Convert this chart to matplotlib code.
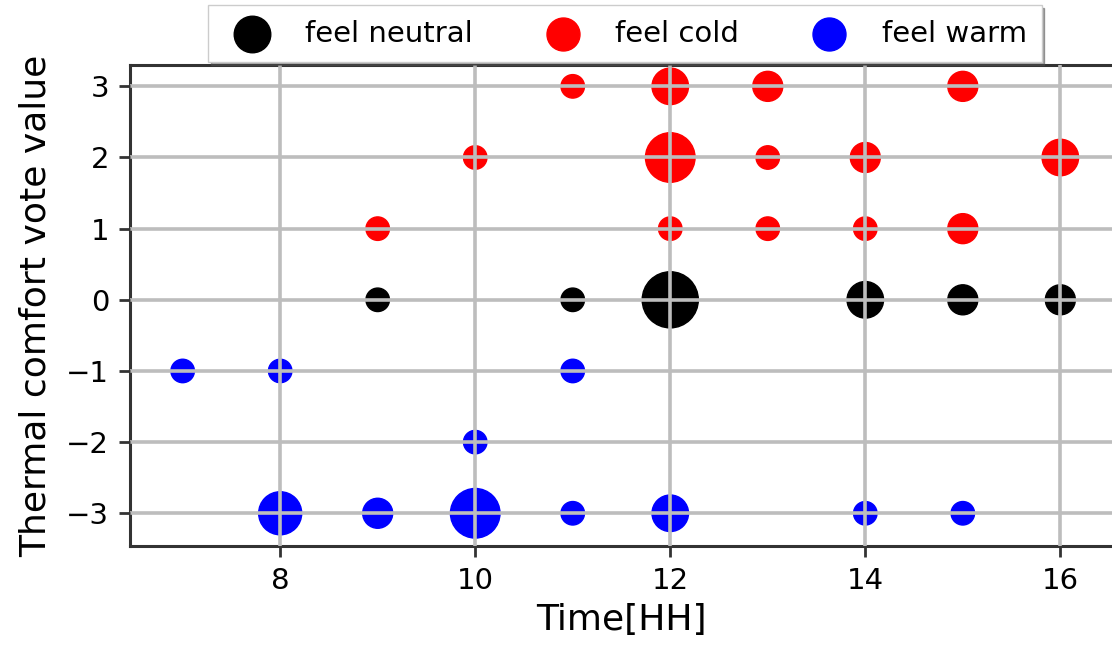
import numpy as np
import matplotlib
matplotlib.use("Agg")
import matplotlib.pyplot as plt

# Vote counts per (hour, vote value) for each group
neutral_time = [9, 11, 12, 14, 15, 16]
neutral_vote = [0, 0, 0, 0, 0, 0]
neutral_count = [1, 1, 6, 3, 2, 2]

cold_time = [11, 12, 13, 15, 10, 12, 13, 14, 16, 9, 12, 13, 14, 15]
cold_vote = [3, 3, 3, 3, 2, 2, 2, 2, 2, 1, 1, 1, 1, 1]
cold_count = [1, 3, 2, 2, 1, 5, 1, 2, 3, 1, 1, 1, 1, 2]

warm_time = [7, 8, 11, 10, 8, 9, 10, 11, 12, 14, 15]
warm_vote = [-1, -1, -1, -2, -3, -3, -3, -3, -3, -3, -3]
warm_count = [1, 1, 1, 1, 4, 2, 5, 1, 3, 1, 1]


# Marker area (points^2) from the number of votes
def marker_size(counts):
    diam = 12.2 + 4.7 * np.asarray(counts, dtype=float)
    return diam ** 2


fig = plt.figure(figsize=(11.12, 6.47), dpi=100)
ax = fig.add_axes([130 / 1112, 101 / 647, 983 / 1112, 481 / 647])

ax.scatter(neutral_time, neutral_vote, s=marker_size(neutral_count),
           c="black", label="feel neutral", zorder=2)
ax.scatter(cold_time, cold_vote, s=marker_size(cold_count),
           c="red", label="feel cold", zorder=2)
ax.scatter(warm_time, warm_vote, s=marker_size(warm_count),
           c="blue", label="feel warm", zorder=2)

ax.set_xlim(6.46, 16.54)
ax.set_ylim(-3.46, 3.30)
ax.set_xticks([8, 10, 12, 14, 16])
ax.set_yticks([-3, -2, -1, 0, 1, 2, 3])

ax.set_axisbelow(False)
ax.grid(True, color="#bdbdbd", linewidth=2.6, zorder=3)

for side in ["left", "top", "bottom", "right"]:
    ax.spines[side].set_linewidth(2.2)
    ax.spines[side].set_color("#333333")
ax.tick_params(axis="both", labelsize=21, length=8, width=2, color="#333333", pad=7)

ax.set_xlabel("Time[HH]", fontsize=26, labelpad=6)
ax.set_ylabel("Thermal comfort vote value", fontsize=26, labelpad=10)

fig.legend(loc="upper center", bbox_to_anchor=(625 / 1112, 1 - 5 / 647),
           ncol=3, fontsize=21, shadow=True, fancybox=False,
           scatterpoints=1, markerscale=0.85, borderaxespad=0,
           borderpad=0.5, columnspacing=2.1, handletextpad=0.8,
           edgecolor="#cccccc")

fig.savefig("out.png", dpi=100)
